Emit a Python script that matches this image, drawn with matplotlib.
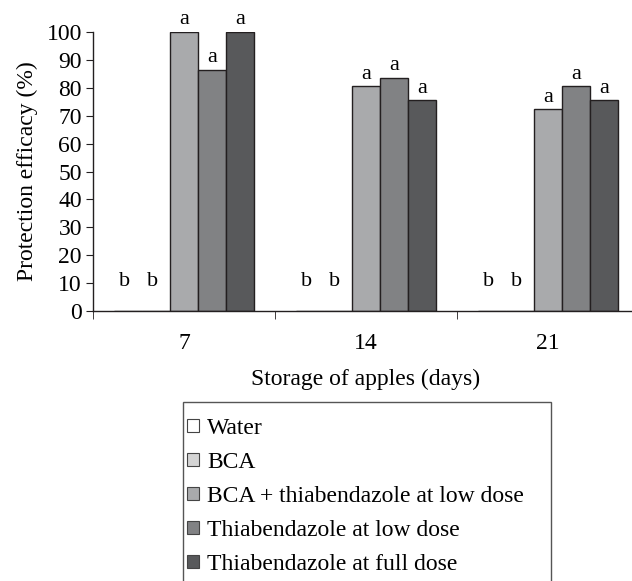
import matplotlib
matplotlib.use('Agg')
import matplotlib.pyplot as plt
from matplotlib.patches import Rectangle
import numpy as np

plt.rcParams['font.family'] = ['Liberation Serif', 'DejaVu Serif']

# data
days = ['7', '14', '21']
treatments = ['Water', 'BCA', 'BCA + thiabendazole at low dose',
              'Thiabendazole at low dose', 'Thiabendazole at full dose']
water = [0, 0, 0]
bca = [0, 0, 0]
bca_thia_low = [100, 80.5, 72.3]
thia_low = [86.5, 83.5, 80.5]
thia_full = [100, 75.5, 75.5]
letters = [['b', 'b', 'a', 'a', 'a'],
           ['b', 'b', 'a', 'a', 'a'],
           ['b', 'b', 'a', 'a', 'a']]

series = [water, bca, bca_thia_low, thia_low, thia_full]
colors = ['#ffffff', '#d4d4d4', '#a9aaac', '#818284', '#58595b']

fig = plt.figure(figsize=(6.32, 5.81), dpi=100)
ax = fig.add_axes([93 / 632, 1 - 311 / 581, 546 / 632, (311 - 32) / 581])

x = np.arange(len(days))
w = 0.154
for i, vals in enumerate(series):
    pos = x + (i - 2) * w
    bars = ax.bar(pos, vals, w, color=colors[i], edgecolor='#231f20',
                  linewidth=1.0, zorder=2)
    for j, b in enumerate(bars):
        lab = letters[j][i]
        if vals[j] == 0:
            ax.text(pos[j] - 0.02, 7, lab, ha='center', va='bottom', fontsize=16)
        else:
            ax.annotate(lab, (pos[j], vals[j]), xytext=(0, 2),
                        textcoords='offset points', ha='center', va='bottom',
                        fontsize=16)

ax.set_xlim(-0.5, 2.5)
ax.set_ylim(0, 100)
ax.set_yticks(range(0, 101, 10))
ax.set_xticks(x)
ax.set_xticklabels(days)
ax.set_xticks([-0.5, 0.5, 1.5, 2.5], minor=True)
ax.tick_params(axis='x', which='major', length=0, pad=16, labelsize=17)
ax.tick_params(axis='x', which='minor', length=6, direction='out', color='#231f20')
ax.tick_params(axis='y', length=5, direction='out', labelsize=17, pad=3, color='#231f20')
for s in ['top', 'right']:
    ax.spines[s].set_visible(False)
for s in ['left', 'bottom']:
    ax.spines[s].set_color('#231f20')
    ax.spines[s].set_linewidth(1.0)

ax.set_ylabel('Protection efficacy (%)', fontsize=17, labelpad=6)
ax.set_xlabel('Storage of apples (days)', fontsize=17)
ax.xaxis.set_label_coords((366 - 93) / 546, -(369 - 311) / 279)

# legend box runs off the bottom of the picture
fig.patches.append(Rectangle((183 / 632, -0.05), (551 - 183) / 632, (581 - 402) / 581 + 0.05,
                             transform=fig.transFigure, fill=False,
                             edgecolor='#555555', linewidth=1.0))
handles = [Rectangle((0, 0), 1, 1, facecolor=c, edgecolor='#444444', linewidth=0.8)
           for c in colors]
fig.legend(handles, treatments, loc='upper left',
           bbox_to_anchor=(187 / 632, 1 - 418 / 581), frameon=False,
           fontsize=17, handlelength=0.5, handleheight=0.5,
           handletextpad=0.35, labelspacing=0.55, borderpad=0, borderaxespad=0)

fig.savefig('out.png', dpi=100)
